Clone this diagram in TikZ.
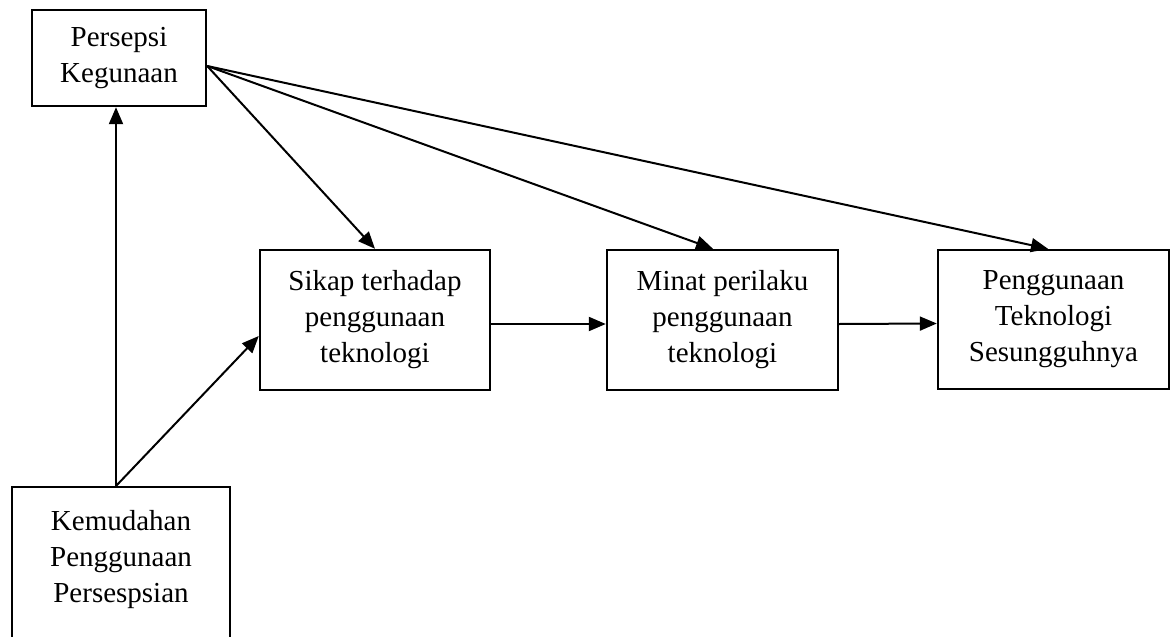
\documentclass[tikz,border=0pt]{standalone}
\usepackage{fontspec}
\setmainfont{Liberation Serif}
\usetikzlibrary{arrows.meta}
\begin{document}
\begin{tikzpicture}[x=1pt,y=-1pt,
  box/.style={draw, line width=2.4pt, inner sep=0pt, align=center,
    font=\fontsize{29}{36}\selectfont},
  arr/.style={line width=2pt, -{Triangle[length=17pt,width=14pt]}}]
\useasboundingbox (0,0) rectangle (1176,637);
\clip (0,0) rectangle (1176,637);
\node[box, minimum width=174pt, minimum height=96pt] (pk) at (119,58) {Persepsi\\Kegunaan};
\node[box, minimum width=230pt, minimum height=140pt] (sik) at (375,320) {Sikap terhadap\\penggunaan\\teknologi};
\node[box, minimum width=231pt, minimum height=140pt] (min) at (722.5,320) {Minat perilaku\\penggunaan\\teknologi};
\node[box, minimum width=231pt, minimum height=139pt] (peng) at (1053.5,319.5) {Penggunaan\\Teknologi\\Sesungguhnya};
\node[box, minimum width=218pt, minimum height=174pt, anchor=north] (kem) at (121,486) {Kemudahan\\Penggunaan\\Persespsian\\~};
\draw[arr] ([xshift=-5pt]kem.north) -- ([xshift=-3pt]pk.south);
\draw[arr] ([xshift=-5pt]kem.north) -- ([yshift=-16pt]sik.west);
\draw[arr] ([yshift=-8pt]pk.east) -- (sik.north);
\draw[arr] ([yshift=-8pt]pk.east) -- ([xshift=-9.5pt]min.north);
\draw[arr] ([yshift=-8pt]pk.east) -- ([xshift=-5.5pt]peng.north);
\draw[arr] ([yshift=-4pt]sik.east) -- ([yshift=-4pt]min.west);
\draw[arr] ([yshift=-4pt]min.east) -- ([yshift=-4pt]peng.west);
\end{tikzpicture}
\end{document}
